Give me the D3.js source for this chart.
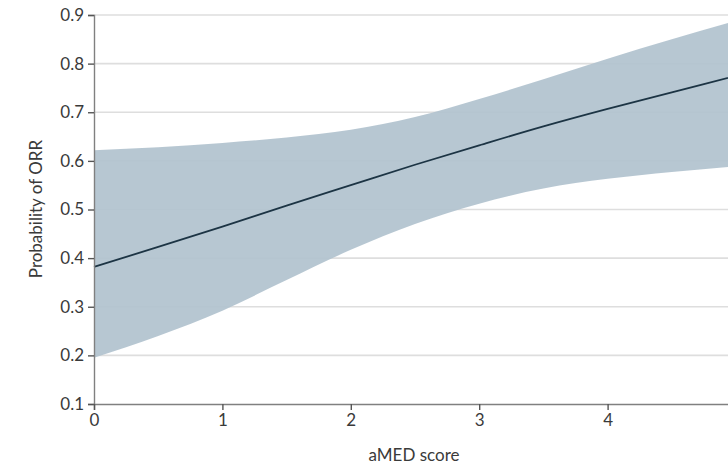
<!DOCTYPE html>
<html>
<head>
<meta charset="utf-8">
<script src="https://cdn.jsdelivr.net/npm/d3@7"></script>
<style>
  html, body { margin: 0; padding: 0; background: #fff; }
  svg { display: block; }
  text { font-family: Lato, "Open Sans", sans-serif; fill: #3a3a3a; }
</style>
</head>
<body>
<svg id="chart" width="728" height="465"></svg>
<script>
// aMED score at which the fitted probability is reported
const scores = [0, 0.5, 1, 1.5, 2, 2.5, 3, 3.5, 4, 4.5, 5];
// fitted probability of objective response rate
const probability = [0.382, 0.423, 0.465, 0.508, 0.550, 0.592, 0.632, 0.671, 0.707, 0.741, 0.775];
// 95% confidence limits
const lowerCI = [0.195, 0.240, 0.292, 0.355, 0.417, 0.470, 0.512, 0.543, 0.563, 0.577, 0.589];
const upperCI = [0.622, 0.628, 0.637, 0.648, 0.664, 0.690, 0.727, 0.768, 0.810, 0.850, 0.888];
// axis ticks
const xTicks = [0, 1, 2, 3, 4];
const yTicks = [0.1, 0.2, 0.3, 0.4, 0.5, 0.6, 0.7, 0.8, 0.9];

const svg = d3.select("#chart");
const W = 728, H = 465;
const margin = { left: 94, top: 15, bottom: 404 };

const x = d3.scaleLinear().domain([0, 5]).range([margin.left, 736]);
const y = d3.scaleLinear().domain([0.1, 0.9]).range([margin.bottom, margin.top]);

const rows = scores.map((s, i) => ({ s, p: probability[i], lo: lowerCI[i], hi: upperCI[i] }));

// horizontal gridlines
svg.append("g")
  .selectAll("line")
  .data(yTicks.filter(t => t > 0.1))
  .join("line")
  .attr("x1", margin.left).attr("x2", W)
  .attr("y1", d => y(d)).attr("y2", d => y(d))
  .attr("stroke", "#dedede")
  .attr("stroke-width", 1.6);

// confidence band
svg.append("path")
  .datum(rows)
  .attr("fill", "#b2c3cf")
  .attr("fill-opacity", 0.93)
  .attr("d", d3.area()
    .x(d => x(d.s))
    .y0(d => y(d.lo))
    .y1(d => y(d.hi))
    .curve(d3.curveMonotoneX));

// fitted curve
svg.append("path")
  .datum(rows)
  .attr("fill", "none")
  .attr("stroke", "#1c3444")
  .attr("stroke-width", 1.8)
  .attr("d", d3.line()
    .x(d => x(d.s))
    .y(d => y(d.p))
    .curve(d3.curveMonotoneX));

// y axis
const yAxis = svg.append("g")
  .attr("transform", `translate(${margin.left},0)`)
  .call(d3.axisLeft(y).tickValues(yTicks).tickFormat(d3.format(".1f")).tickSize(6).tickPadding(4));
yAxis.select(".domain").attr("stroke", "#808080").attr("stroke-width", 1.4);
yAxis.selectAll(".tick line").attr("stroke", "#555").attr("stroke-width", 1.4);
yAxis.selectAll(".tick text").attr("font-size", 17).attr("fill", "#3a3a3a")
  .style("font-family", "Lato, 'Open Sans', sans-serif");

// x axis
const xAxis = svg.append("g")
  .attr("transform", `translate(0,${margin.bottom})`)
  .call(d3.axisBottom(x).tickValues(xTicks).tickFormat(d3.format("d")).tickSize(6).tickPadding(4));
xAxis.select(".domain").attr("stroke", "#808080").attr("stroke-width", 1.4);
xAxis.selectAll(".tick line").attr("stroke", "#555").attr("stroke-width", 1.4);
xAxis.selectAll(".tick text").attr("font-size", 17).attr("fill", "#3a3a3a")
  .style("font-family", "Lato, 'Open Sans', sans-serif");

// axis titles
svg.append("text")
  .attr("x", 414).attr("y", 461)
  .attr("text-anchor", "middle")
  .attr("font-size", 17)
  .text("aMED score");

svg.append("text")
  .attr("transform", "translate(42,209) rotate(-90)")
  .attr("text-anchor", "middle")
  .attr("font-size", 17)
  .text("Probability of ORR");
</script>
</body>
</html>
